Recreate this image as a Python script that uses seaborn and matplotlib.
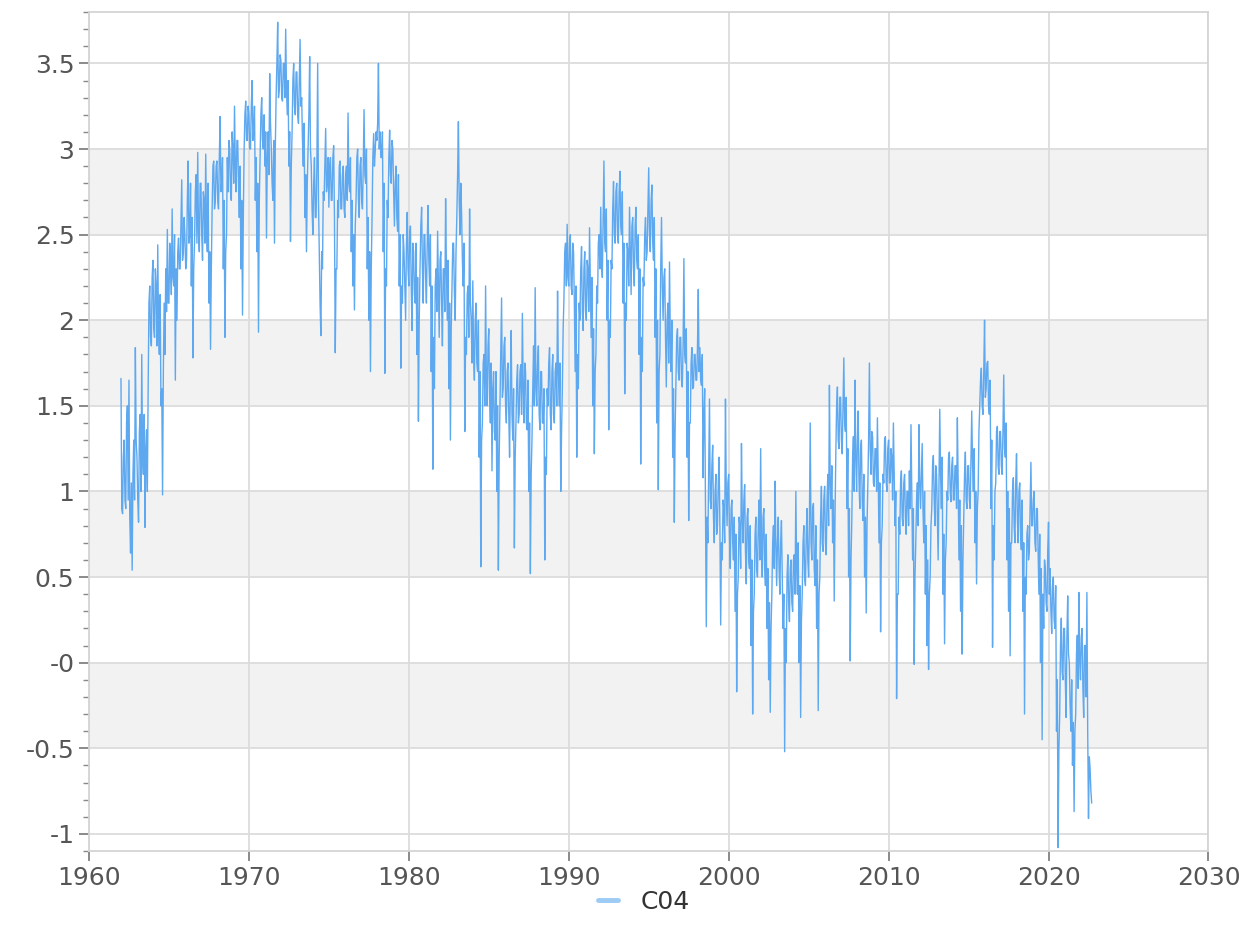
import numpy as np
import pandas as pd
import seaborn as sns
import matplotlib.pyplot as plt

# readings every 0.1 year, starting 1962.0
v1960s = [1.66, 0.87, 1.30, 0.90, 1.50, 1.65, 0.64, 0.54, 1.30, 1.84,
          1.20, 0.82, 1.45, 1.80, 1.10, 0.79, 1.36, 1.60, 2.20, 1.85,
          2.35, 1.90, 2.20, 2.44, 1.80, 1.50, 0.98, 2.10, 2.30, 2.53,
          2.10, 2.35, 2.65, 2.20, 1.65, 2.00, 2.48, 2.30, 2.82, 2.40,
          2.48, 2.35, 2.93, 2.50, 2.20, 1.78, 2.45, 2.85, 2.98, 2.40,
          2.80, 2.35, 2.70, 2.97, 2.40, 2.10, 1.83, 2.65, 2.93, 2.70,
          2.93, 2.65, 3.19, 2.80, 2.30, 1.90, 2.50, 2.75, 3.00, 2.70,
          3.00, 3.25, 2.75, 3.05, 2.60, 2.30, 2.03, 2.99, 3.28, 3.05]
v1970s = [3.20, 3.00, 3.40, 3.10, 2.70, 2.40, 1.93, 2.95, 3.30, 3.00,
          2.90, 2.48, 3.10, 3.44, 3.00, 2.70, 2.45, 3.30, 3.74, 3.35,
          3.52, 3.28, 3.50, 3.70, 3.20, 2.90, 2.46, 3.10, 3.50, 3.20,
          3.45, 3.15, 3.64, 3.30, 2.90, 2.60, 2.40, 3.00, 3.54, 2.90,
          2.50, 2.95, 2.60, 3.50, 2.40, 1.91, 2.30, 2.70, 3.12, 2.80,
          2.66, 2.95, 2.70, 3.02, 1.81, 2.30, 2.60, 2.93, 2.65, 2.90,
          2.60, 2.90, 3.21, 2.75, 2.40, 2.20, 2.06, 2.70, 3.00, 2.60,
          2.95, 2.65, 3.23, 2.80, 2.30, 2.00, 1.70, 2.60, 3.09, 2.99,
          3.05, 3.50, 3.10, 2.95, 2.40, 1.69, 2.20, 2.60, 3.11, 2.80,
          3.00, 2.55, 2.90, 2.52, 2.20, 1.72, 2.10, 2.40, 2.00, 2.63]
v1980s = [2.20, 2.55, 1.94, 2.40, 2.10, 1.80, 1.41, 2.30, 2.66, 2.10,
          2.50, 2.10, 2.67, 2.20, 1.70, 1.13, 1.60, 2.30, 2.52, 1.90,
          2.40, 1.85, 2.30, 2.71, 2.00, 1.60, 1.30, 2.20, 2.45, 2.00,
          2.60, 3.16, 2.50, 2.62, 2.20, 1.35, 1.80, 2.20, 2.65, 2.00,
          2.23, 1.65, 2.10, 1.70, 1.20, 0.56, 1.40, 1.80, 2.20, 1.50,
          1.95, 1.40, 1.12, 1.70, 1.30, 1.00, 0.54, 1.50, 2.13, 1.60,
          1.90, 1.40, 1.75, 1.20, 1.94, 1.30, 0.67, 1.40, 1.74, 1.45,
          1.74, 2.04, 1.40, 1.70, 1.36, 1.00, 0.52, 1.30, 1.85, 2.19,
          1.50, 1.85, 1.36, 1.70, 1.40, 0.60, 1.10, 1.50, 1.84, 1.36,
          1.80, 1.40, 1.75, 2.17, 1.50, 1.00, 1.60, 2.13, 2.45, 2.56]
v1990s = [2.20, 2.50, 2.15, 2.40, 1.70, 1.20, 1.60, 2.00, 2.43, 1.94,
          2.40, 2.00, 2.30, 2.54, 1.90, 1.50, 1.22, 1.80, 2.10, 2.50,
          2.66, 2.25, 2.93, 2.40, 2.00, 1.36, 1.90, 2.30, 2.81, 2.45,
          2.80, 2.45, 2.87, 2.50, 2.10, 1.57, 2.00, 2.40, 2.66, 2.15,
          2.60, 2.20, 2.66, 2.30, 1.80, 1.16, 1.70, 2.20, 2.60, 2.40,
          2.89, 2.40, 2.79, 2.35, 1.90, 1.40, 1.01, 1.80, 2.60, 2.00,
          2.30, 1.61, 2.10, 2.34, 1.70, 1.20, 0.82, 1.61, 1.95, 1.65,
          1.90, 1.61, 2.36, 1.75, 1.20, 0.83, 1.40, 1.84, 1.61, 1.80,
          1.65, 2.18, 1.84, 1.62, 1.08, 1.60, 0.21, 0.70, 1.54, 0.90,
          1.27, 0.70, 1.10, 0.80, 1.20, 0.22, 0.60, 0.90, 1.54, 0.80]
v2000s = [1.10, 0.55, 0.95, 0.60, 0.30, -0.17, 0.50, 0.80, 1.28, 0.70,
          1.04, 0.46, 0.90, 0.55, 0.10, -0.30, 0.40, 0.85, 0.50, 0.95,
          1.25, 0.50, 0.90, 0.45, 0.20, -0.10, -0.29, 0.40, 0.80, 1.06,
          0.45, 0.85, 0.40, 0.83, 0.20, -0.52, 0.00, 0.63, 0.24, 0.60,
          0.30, 0.63, 1.00, 0.40, 0.00, -0.32, 0.40, 0.80, 0.45, 0.90,
          0.50, 1.40, 0.60, 0.93, 0.45, 0.20, -0.28, 0.50, 1.03, 0.65,
          1.03, 0.63, 1.10, 1.62, 0.90, 0.70, 0.36, 1.22, 1.61, 1.25,
          1.55, 1.22, 1.78, 1.35, 0.90, 0.50, 0.01, 0.83, 1.32, 1.65,
          1.00, 1.47, 0.90, 1.30, 0.83, 0.50, 0.29, 1.03, 1.75, 1.10,
          1.32, 1.03, 1.25, 1.43, 0.70, 0.18, 0.80, 1.05, 1.32, 1.00]
v2010s = [1.30, 1.05, 1.20, 1.40, 0.80, -0.21, 0.40, 0.75, 1.12, 0.80,
          1.10, 0.75, 1.00, 1.12, 1.39, 0.60, -0.01, 0.70, 1.05, 1.39,
          0.90, 1.28, 0.70, 0.40, 0.10, -0.04, 0.50, 0.90, 1.21, 0.80,
          1.10, 0.60, 1.48, 0.90, 0.40, 0.11, 0.70, 0.95, 1.23, 0.94,
          1.20, 0.95, 1.15, 1.43, 0.60, 0.30, 0.05, 0.84, 1.23, 0.90,
          1.15, 0.90, 1.47, 1.00, 0.70, 0.46, 1.00, 1.50, 1.72, 1.45,
          2.00, 1.60, 1.76, 1.45, 0.90, 0.09, 0.60, 1.05, 1.38, 1.10,
          1.35, 1.10, 1.68, 1.20, 0.60, 0.30, 0.04, 0.70, 1.08, 0.70,
          1.22, 0.70, 1.05, 0.66, 0.30, -0.30, 0.40, 0.80, 0.65, 1.17,
          0.80, 1.00, 0.65, 0.90, 0.40, 0.00, -0.45, 0.20, 0.55, 0.30]
v2020s = [0.82, 0.55, 0.17, 0.50, 0.20, -0.40, -1.08, -0.30, 0.26, -0.10,
          0.20, -0.32, 0.39, 0.00, -0.40, -0.60, -0.87, -0.30, 0.16, 0.41,
          -0.10, 0.20, -0.32, 0.10, 0.41, -0.91, -0.62, -0.82]

# in-between readings (half a step later), the other side of the dense band
m1960s = [0.90, 1.20, 0.95, 1.40, 0.95, 0.85, 1.05, 1.10, 0.95, 1.30,
          0.95, 1.35, 1.00, 1.20, 1.45, 1.25, 1.00, 2.10, 1.90, 2.25,
          1.95, 2.30, 1.85, 1.95, 2.15, 1.60, 1.70, 1.80, 2.05, 2.10,
          2.45, 2.15, 2.25, 2.50, 2.30, 2.40, 2.30, 2.55, 2.35, 2.60,
          2.30, 2.70, 2.45, 2.80, 2.60, 2.30, 2.75, 2.45, 2.50, 2.80,
          2.50, 2.75, 2.45, 2.55, 2.80, 2.40, 2.30, 2.90, 2.65, 2.90,
          2.70, 2.95, 2.75, 2.95, 2.70, 2.40, 2.95, 3.05, 2.75, 3.10,
          2.80, 2.90, 3.05, 2.80, 2.90, 2.70, 2.60, 3.20, 3.05, 3.25]
m1970s = [3.00, 3.25, 3.05, 3.25, 2.95, 2.80, 2.70, 3.20, 3.05, 3.20,
          3.10, 2.95, 2.85, 3.15, 2.80, 3.05, 3.00, 3.50, 3.30, 3.55,
          3.30, 3.50, 3.30, 3.35, 3.40, 3.10, 2.90, 3.40, 3.25, 3.45,
          3.20, 3.40, 3.25, 3.05, 3.15, 2.85, 2.80, 3.20, 3.00, 2.65,
          2.80, 2.60, 2.90, 2.70, 2.10, 2.40, 2.75, 2.90, 2.75, 2.95,
          2.90, 2.70, 2.95, 2.60, 2.30, 2.70, 2.90, 2.65, 2.85, 2.65,
          2.85, 2.70, 2.80, 2.95, 2.70, 2.50, 2.55, 2.95, 2.70, 2.90,
          2.70, 2.90, 2.85, 3.00, 2.60, 2.40, 2.30, 2.95, 2.90, 3.10,
          3.15, 3.00, 2.95, 3.10, 2.80, 2.30, 2.70, 2.95, 2.85, 3.05,
          2.75, 2.80, 2.60, 2.85, 2.50, 2.20, 2.50, 2.20, 2.45, 2.30]
m1980s = [2.50, 2.20, 2.45, 2.15, 2.45, 2.25, 2.00, 2.55, 2.30, 2.50,
          2.25, 2.45, 2.35, 2.50, 2.20, 1.90, 2.20, 2.05, 2.20, 2.35,
          2.10, 2.30, 2.05, 2.30, 2.35, 2.10, 1.95, 2.45, 2.15, 2.40,
          2.85, 2.70, 2.80, 2.35, 2.45, 1.90, 2.15, 1.90, 2.10, 1.75,
          1.80, 2.00, 1.75, 2.00, 1.70, 1.30, 1.75, 1.50, 1.65, 1.85,
          1.55, 1.75, 1.60, 1.35, 1.70, 1.50, 1.20, 1.80, 1.55, 1.85,
          1.50, 1.70, 1.45, 1.65, 1.45, 1.60, 1.20, 1.65, 1.40, 1.70,
          1.45, 1.60, 1.75, 1.40, 1.65, 1.40, 1.10, 1.60, 1.50, 1.60,
          1.75, 1.45, 1.70, 1.40, 1.60, 1.20, 1.60, 1.75, 1.45, 1.70,
          1.45, 1.70, 1.50, 1.70, 1.75, 1.35, 1.95, 2.40, 2.20, 2.25]
m1990s = [2.45, 2.20, 2.45, 2.10, 2.20, 1.80, 2.10, 2.30, 2.05, 2.30,
          2.05, 2.35, 2.05, 2.20, 2.25, 1.95, 1.70, 2.20, 2.45, 2.30,
          2.35, 2.60, 2.45, 2.65, 2.35, 2.00, 2.35, 2.65, 2.50, 2.75,
          2.50, 2.75, 2.55, 2.75, 2.45, 2.10, 2.45, 2.20, 2.40, 2.55,
          2.30, 2.55, 2.35, 2.50, 2.30, 1.90, 2.25, 2.50, 2.35, 2.65,
          2.50, 2.70, 2.45, 2.60, 2.30, 2.00, 1.70, 2.30, 2.20, 2.25,
          1.90, 2.00, 1.75, 1.90, 2.00, 1.60, 1.35, 1.90, 1.70, 1.90,
          1.65, 1.85, 1.80, 1.95, 1.70, 1.40, 1.75, 1.60, 1.80, 1.65,
          1.85, 1.70, 1.65, 1.80, 1.45, 0.90, 0.85, 1.10, 0.95, 1.15,
          0.85, 1.00, 0.75, 1.05, 0.80, 0.70, 0.95, 0.70, 1.00, 1.05]
m2000s = [0.75, 0.90, 0.70, 0.85, 0.75, 0.40, 0.85, 0.55, 0.85, 0.95,
          0.65, 0.85, 0.60, 0.80, 0.60, 0.30, 0.75, 0.55, 0.80, 0.60,
          0.70, 0.85, 0.55, 0.75, 0.55, 0.35, 0.20, 0.70, 0.55, 0.70,
          0.70, 0.55, 0.70, 0.50, 0.40, 0.20, 0.50, 0.35, 0.55, 0.35,
          0.60, 0.40, 0.55, 0.70, 0.45, 0.25, 0.70, 0.50, 0.75, 0.60,
          0.85, 0.70, 0.90, 0.55, 0.80, 0.60, 0.40, 0.85, 0.70, 0.95,
          0.70, 0.95, 0.80, 1.05, 1.15, 0.95, 0.85, 1.50, 1.30, 1.55,
          1.30, 1.50, 1.40, 1.55, 1.25, 0.90, 0.60, 1.20, 1.00, 1.20,
          1.30, 1.05, 1.25, 0.95, 1.10, 0.85, 0.80, 1.30, 1.25, 1.35,
          1.05, 1.25, 1.00, 1.10, 1.05, 0.70, 1.10, 1.30, 1.05, 1.25]
m2010s = [1.05, 1.25, 0.95, 1.10, 1.00, 0.40, 0.85, 1.05, 0.85, 1.05,
          0.85, 1.00, 0.80, 0.90, 1.00, 0.90, 0.50, 0.95, 0.80, 1.05,
          1.10, 0.90, 1.00, 0.80, 0.60, 0.40, 0.80, 1.15, 0.95, 1.15,
          0.85, 1.05, 1.10, 1.20, 0.75, 0.60, 1.00, 1.20, 1.00, 1.15,
          0.95, 1.15, 0.90, 1.05, 0.95, 0.80, 0.60, 1.10, 0.95, 1.15,
          0.95, 1.20, 1.15, 1.25, 1.00, 0.90, 1.35, 1.65, 1.50, 1.70,
          1.55, 1.75, 1.50, 1.65, 1.30, 0.80, 1.00, 1.35, 1.15, 1.35,
          1.15, 1.35, 1.25, 1.40, 1.00, 0.90, 0.70, 1.00, 0.80, 1.05,
          0.85, 1.00, 0.75, 0.95, 0.70, 0.50, 0.75, 0.60, 0.90, 0.80,
          0.95, 0.70, 0.90, 0.65, 0.75, 0.55, 0.40, 0.60, 0.35, 0.65]
m2020s = [0.40, 0.30, 0.45, 0.25, 0.45, -0.10, -0.50, 0.10, -0.05, 0.20,
          -0.10, 0.15, 0.05, -0.25, -0.10, -0.35, -0.40, 0.05, -0.15, 0.00,
          0.15, -0.15, 0.10, -0.20, -0.40, -0.55, -0.75]

series_name = 'C04'
start_year = 1962.0
step = 0.1

yticks = [-1, -0.5, 0, 0.5, 1, 1.5, 2, 2.5, 3, 3.5]
ylabels = ['-1', '-0.5', '-0', '0.5', '1', '1.5', '2', '2.5', '3', '3.5']
xticks = [1960, 1970, 1980, 1990, 2000, 2010, 2020, 2030]

main = v1960s + v1970s + v1980s + v1990s + v2000s + v2010s + v2020s
mids = m1960s + m1970s + m1980s + m1990s + m2000s + m2010s + m2020s
df = pd.concat([
    pd.DataFrame({'year': start_year + step * np.arange(len(main)), 'value': main}),
    pd.DataFrame({'year': start_year + step * (np.arange(len(mids)) + 0.5), 'value': mids}),
]).sort_values('year').reset_index(drop=True)
df['series'] = series_name

sns.set_style('white')
plt.rcParams['font.family'] = ['DejaVu Sans']

fig = plt.figure(figsize=(12.48, 9.32), dpi=100)
ax = fig.add_axes([0.0713, 0.0869, 0.8970, 0.9002])

# alternating bands
for lo, hi in zip(yticks[1::2], yticks[2::2]):
    ax.axhspan(lo, hi, color='#f2f2f2', zorder=0, lw=0)

sns.lineplot(data=df, x='year', y='value', hue='series', palette=['#5ea8f0'],
             estimator=None, sort=False, lw=1.0, ax=ax, legend=False, zorder=3)

ax.set_xlim(1960, 2030)
ax.set_ylim(-1.1, 3.8)
ax.set_xticks(xticks)
ax.set_yticks(yticks)
ax.set_yticklabels(ylabels)
ax.set_yticks(np.arange(-1.1, 3.81, 0.1), minor=True)
ax.grid(True, which='major', color='#dcdcdc', lw=1.3, zorder=1)
ax.set_axisbelow(True)
ax.tick_params(axis='both', which='major', direction='out', length=7, width=1.2,
               color='#777777', labelcolor='#555555', labelsize=18, left=True, bottom=True)
ax.tick_params(axis='y', which='minor', direction='out', length=4, width=1.0,
               color='#888888', left=True)
for s in ax.spines.values():
    s.set_color('#d4d4d4')
    s.set_linewidth(1.3)
ax.set_xlabel('')
ax.set_ylabel('')

handle = plt.Line2D([], [], color='#9ccbf6', lw=3.5)
fig.legend([handle], [series_name], loc='lower center', bbox_to_anchor=(0.516, -0.005),
           frameon=False, fontsize=18, handlelength=0.8, handletextpad=0.9,
           labelcolor='#333333')

fig.savefig('out.png', dpi=100)
